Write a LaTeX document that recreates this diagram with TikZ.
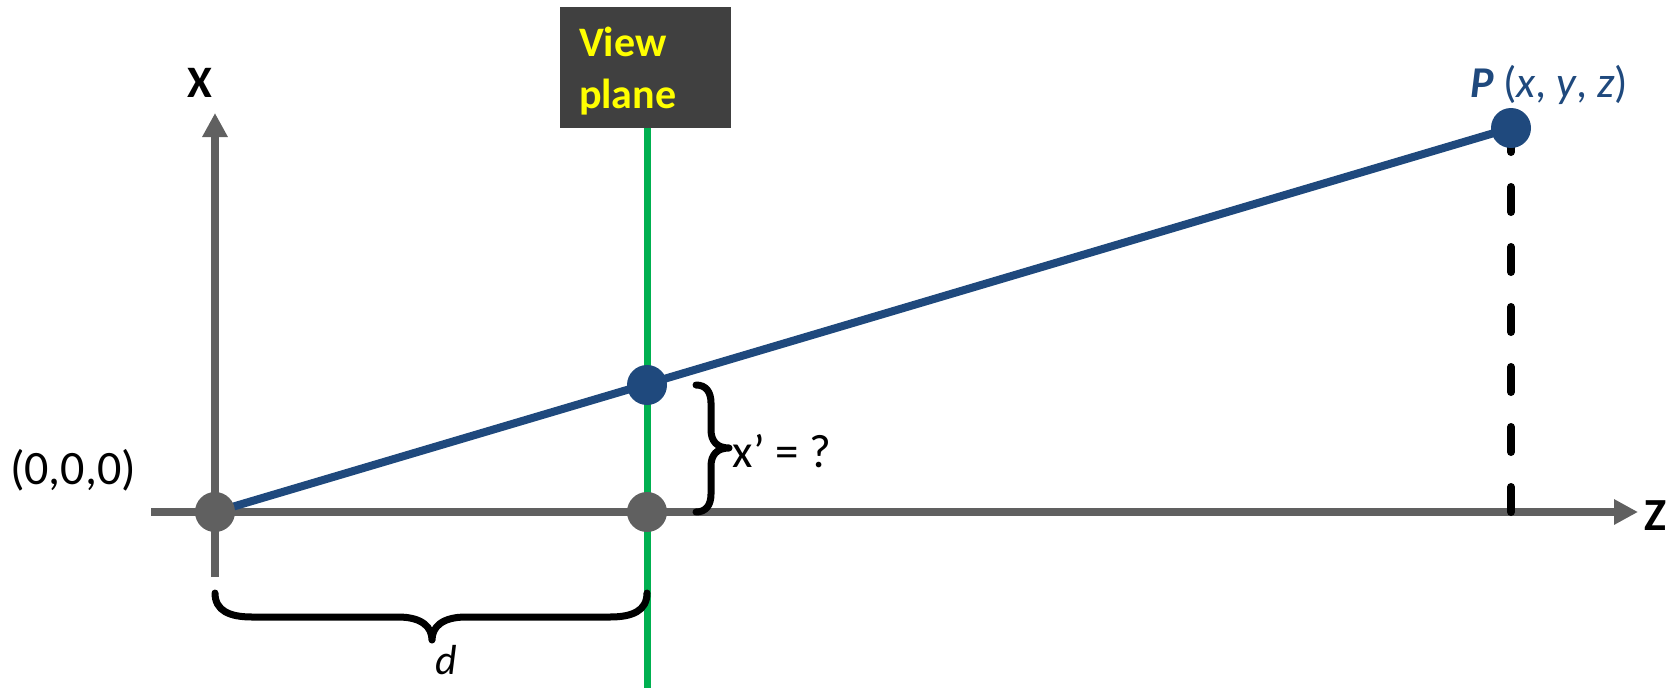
\documentclass[tikz,border=0pt]{standalone}
\usepackage{fontspec}
\setmainfont{Carlito}
\usetikzlibrary{arrows.meta}
\definecolor{axisgray}{HTML}{606060}
\definecolor{ptblue}{HTML}{1F497D}
\definecolor{vgreen}{HTML}{00B050}
\definecolor{boxgray}{HTML}{404040}
\definecolor{vyellow}{HTML}{FFFF00}
\tikzset{
  axis/.style={draw=axisgray, line width=8pt, -{Triangle[length=24pt,width=24pt]}},
  rayline/.style={draw=ptblue, line width=8pt},
  greenline/.style={draw=vgreen, line width=7pt},
  bluedot/.style={circle, fill=ptblue, minimum size=40pt, inner sep=0pt},
  graydot/.style={circle, fill=axisgray, minimum size=40pt, inner sep=0pt},
  bracestroke/.style={draw=black, line width=7pt, line join=round, line cap=round},
  dashline/.style={draw=black, line width=8pt, line cap=round, dash pattern=on 25pt off 35pt},
  lbl/.style={inner sep=0pt, outer sep=0pt},
}
\begin{document}
\begin{tikzpicture}[x=1pt, y=-1pt]
\useasboundingbox (0,0) rectangle (1672,688);
% key coordinates
\coordinate (O) at (215,512);
\coordinate (V) at (647,385);
\coordinate (VA) at (647,512);
\coordinate (P) at (1511,128);
\coordinate (zstart) at (151,512);
\coordinate (zend) at (1638,512);
\coordinate (xstart) at (215,577);
\coordinate (xend) at (215,113);
\coordinate (gtop) at (647,128);
\coordinate (gbot) at (647,688);
% view plane box
\node[fill=boxgray, minimum width=171pt, minimum height=121pt, inner sep=0pt, anchor=north west] (box) at (560,7) {};
\node[lbl, anchor=base west, text=vyellow, font=\fontsize{42}{50}\selectfont\bfseries] (view) at (579,56) {View};
\node[lbl, anchor=base west, text=vyellow, font=\fontsize{42}{50}\selectfont\bfseries] (plane) at (579,108) {plane};
% axes
\draw[axis] (zstart) -- (zend);
\draw[axis] (xstart) -- (xend);
% green view plane line
\draw[greenline] (gtop) -- (gbot);
% dashed projection
\coordinate (Pfoot) at (1511,512);
\draw[dashline] (Pfoot) -- (P);
% ray
\draw[rayline] (O) -- (P);
% dots
\node[graydot] (o) at (O) {};
\node[graydot] (va) at (VA) {};
\node[bluedot] (v) at (V) {};
\node[bluedot] (p) at (P) {};
% labels
\node[lbl, anchor=base, font=\fontsize{45}{54}\selectfont\bfseries] (xlab) at (200,97) {X};
\node[lbl, anchor=base, font=\fontsize{46}{55}\selectfont\bfseries] (zlab) at (1655,530) {Z};
\node[lbl, anchor=base west, text=ptblue, font=\fontsize{44}{53}\selectfont] (plab) at (1470,97) {\textbf{\textit{P}} (\textit{x}, \textit{y}, \textit{z})};
\node[lbl, anchor=base west, font=\fontsize{48}{57}\selectfont] (olab) at (10,484) {(0,0,0)};
\node[lbl, anchor=base west, font=\fontsize{47}{56}\selectfont] (xplab) at (732,467) {x’ = ?};
\node[lbl, anchor=base, font=\fontsize{42}{50}\selectfont\itshape] (dlab) at (446,674) {d};
% brace d
\draw[bracestroke] (215,593) .. controls (215,611) and (230,617) .. (252,617)
  -- (398,617) .. controls (422,617) and (432,627) .. (432,640)
  .. controls (432,627) and (442,617) .. (466,617)
  -- (610,617) .. controls (632,617) and (647,611) .. (647,593);
% brace x'
\draw[bracestroke] (696,385) .. controls (706,385) and (711,392) .. (711,403)
  -- (711,430) .. controls (711,441) and (717,448) .. (729,448)
  .. controls (717,448) and (711,455) .. (711,466)
  -- (711,494) .. controls (711,505) and (706,512) .. (696,512);
\end{tikzpicture}
\end{document}
